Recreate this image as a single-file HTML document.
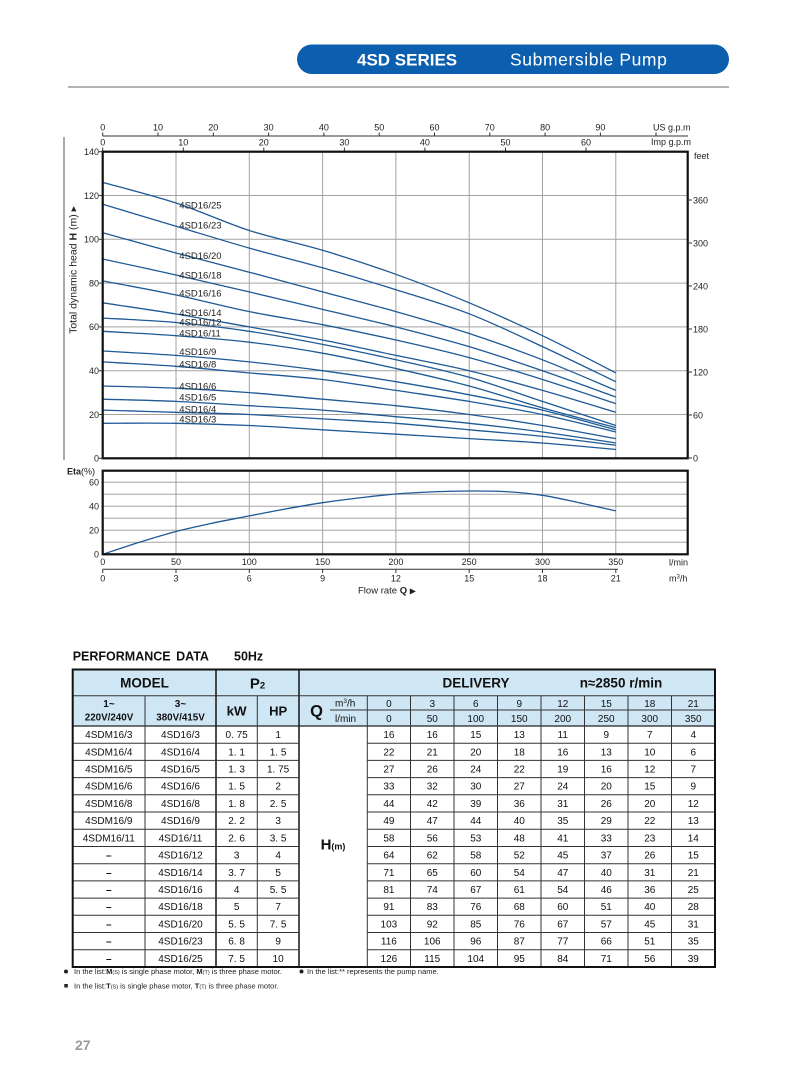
<!DOCTYPE html>
<html>
<head>
<meta charset="utf-8">
<style>
html,body{margin:0;padding:0;background:#fff;}
body{width:805px;height:1081px;position:relative;overflow:hidden;font-family:"Liberation Sans",Arial,sans-serif;}
svg{position:absolute;left:0;top:0;}
svg text{font-family:"Liberation Sans",Arial,sans-serif;}
</style>
</head>
<body>
<svg id="main" width="805" height="1081" viewBox="0 0 805 1081" xmlns="http://www.w3.org/2000/svg">
<!-- Header bar -->
<rect x="297" y="44.5" width="432" height="29.5" rx="14.75" fill="#0c5fae"/>
<text x="357" y="65.5" font-size="17" font-weight="bold" fill="#fff">4SD SERIES</text>
<text x="510" y="65.5" font-size="17.5" fill="#fff" letter-spacing="0.6">Submersible Pump</text>
<line x1="68" y1="87" x2="729" y2="87" stroke="#b3b3b3" stroke-width="2"/>

<!-- Top axes -->
<g font-size="9" fill="#222" text-anchor="middle">
<line x1="102.7" y1="136" x2="688" y2="136" stroke="#333" stroke-width="1"/>
<g stroke="#333" stroke-width="1">
<line x1="102.7" y1="132.5" x2="102.7" y2="136"/><line x1="158" y1="132.5" x2="158" y2="136"/><line x1="213.3" y1="132.5" x2="213.3" y2="136"/><line x1="268.6" y1="132.5" x2="268.6" y2="136"/><line x1="323.9" y1="132.5" x2="323.9" y2="136"/><line x1="379.2" y1="132.5" x2="379.2" y2="136"/><line x1="434.5" y1="132.5" x2="434.5" y2="136"/><line x1="489.8" y1="132.5" x2="489.8" y2="136"/><line x1="545.1" y1="132.5" x2="545.1" y2="136"/><line x1="600.4" y1="132.5" x2="600.4" y2="136"/><line x1="656" y1="132.5" x2="656" y2="136"/>
<line x1="102.7" y1="147.5" x2="102.7" y2="151"/><line x1="183.3" y1="147.5" x2="183.3" y2="151"/><line x1="263.8" y1="147.5" x2="263.8" y2="151"/><line x1="344.4" y1="147.5" x2="344.4" y2="151"/><line x1="424.9" y1="147.5" x2="424.9" y2="151"/><line x1="505.5" y1="147.5" x2="505.5" y2="151"/><line x1="586" y1="147.5" x2="586" y2="151"/>
</g>
<text x="102.7" y="130.5">0</text><text x="158" y="130.5">10</text><text x="213.3" y="130.5">20</text><text x="268.6" y="130.5">30</text><text x="323.9" y="130.5">40</text><text x="379.2" y="130.5">50</text><text x="434.5" y="130.5">60</text><text x="489.8" y="130.5">70</text><text x="545.1" y="130.5">80</text><text x="600.4" y="130.5">90</text>
<text x="102.7" y="145.5">0</text><text x="183.3" y="145.5">10</text><text x="263.8" y="145.5">20</text><text x="344.4" y="145.5">30</text><text x="424.9" y="145.5">40</text><text x="505.5" y="145.5">50</text><text x="586" y="145.5">60</text>
</g>
<text x="653" y="130.5" font-size="9" fill="#222">US g.p.m</text>
<text x="651" y="145" font-size="9" fill="#222">Imp g.p.m</text>
<text x="694" y="159" font-size="9" fill="#222">feet</text>

<!-- Main chart grid -->
<g stroke="#a3a3a3" stroke-width="1">
<line x1="176" y1="151.7" x2="176" y2="458.3"/><line x1="249.3" y1="151.7" x2="249.3" y2="458.3"/><line x1="322.6" y1="151.7" x2="322.6" y2="458.3"/><line x1="395.9" y1="151.7" x2="395.9" y2="458.3"/><line x1="469.2" y1="151.7" x2="469.2" y2="458.3"/><line x1="542.5" y1="151.7" x2="542.5" y2="458.3"/><line x1="615.8" y1="151.7" x2="615.8" y2="458.3"/>
<line x1="102.7" y1="195.5" x2="687.7" y2="195.5"/><line x1="102.7" y1="239.3" x2="687.7" y2="239.3"/><line x1="102.7" y1="283.1" x2="687.7" y2="283.1"/><line x1="102.7" y1="326.9" x2="687.7" y2="326.9"/><line x1="102.7" y1="370.7" x2="687.7" y2="370.7"/><line x1="102.7" y1="414.5" x2="687.7" y2="414.5"/>
</g>

<!-- Curves -->
<g fill="none" stroke="#1d5a96" stroke-width="1.3" stroke-linejoin="round">
<polyline class="c" points="102.7,423.3 176,423.3 249.3,425.5 322.6,429.8 395.9,434.2 469.2,438.6 542.5,443 615.8,449.5"/>
<polyline class="c" points="102.7,410.1 176,412.3 249.3,414.5 322.6,418.9 395.9,423.3 469.2,429.8 542.5,436.4 615.8,445.2"/>
<polyline class="c" points="102.7,399.2 176,401.4 249.3,405.7 322.6,410.1 395.9,416.7 469.2,423.3 542.5,432 615.8,443"/>
<polyline class="c" points="102.7,386 176,388.2 249.3,392.6 322.6,399.2 395.9,405.7 469.2,414.5 542.5,425.5 615.8,438.6"/>
<polyline class="c" points="102.7,361.9 176,366.3 249.3,372.9 322.6,379.5 395.9,390.4 469.2,401.4 542.5,414.5 615.8,432"/>
<polyline class="c" points="102.7,351 176,355.4 249.3,361.9 322.6,370.7 395.9,381.7 469.2,394.8 542.5,410.1 615.8,429.8"/>
<polyline class="c" points="102.7,331.3 176,335.7 249.3,342.2 322.6,353.2 395.9,368.5 469.2,386 542.5,407.9 615.8,427.6"/>
<polyline class="c" points="102.7,318.1 176,322.5 249.3,331.3 322.6,344.4 395.9,359.8 469.2,377.3 542.5,401.4 615.8,425.5"/>
<polyline class="c" points="102.7,302.8 176,314 249.3,326.9 322.6,340 395.9,355.4 469.2,370.7 542.5,390.4 615.8,412.3"/>
<polyline class="c" points="102.7,280.9 176,295 249.3,311.6 322.6,324.7 395.9,340 469.2,357.6 542.5,379.5 615.8,403.6"/>
<polyline class="c" points="102.7,259 176,275 249.3,291.9 322.6,309.4 395.9,326.9 469.2,346.6 542.5,370.7 615.8,397"/>
<polyline class="c" points="102.7,232.7 176,253 249.3,272.2 322.6,291.9 395.9,311.6 469.2,333.5 542.5,359.8 615.8,390.4"/>
<polyline class="c" points="102.7,204.3 176,226.2 249.3,248.1 322.6,267.8 395.9,289.7 469.2,313.8 542.5,346.6 615.8,381.7"/>
<polyline class="c" points="102.7,182.4 176,203 249.3,230.5 322.6,250.3 395.9,274.3 469.2,302.8 542.5,335.7 615.8,372.9"/>
</g>

<!-- Curve labels -->
<g font-size="9.5" fill="#222">
<text x="179.3" y="208.4">4SD16/25</text>
<text x="179.3" y="228.4">4SD16/23</text>
<text x="179.3" y="259.1">4SD16/20</text>
<text x="179.3" y="278.4">4SD16/18</text>
<text x="179.3" y="296.7">4SD16/16</text>
<text x="179.3" y="316.1">4SD16/14</text>
<text x="179.3" y="325.7">4SD16/12</text>
<text x="179.3" y="336.7">4SD16/11</text>
<text x="179.3" y="355.1">4SD16/9</text>
<text x="179.3" y="367.4">4SD16/8</text>
<text x="179.3" y="389.4">4SD16/6</text>
<text x="179.3" y="400.7">4SD16/5</text>
<text x="179.3" y="412.4">4SD16/4</text>
<text x="179.3" y="422.7">4SD16/3</text>
</g>

<!-- main chart border -->
<rect x="102.7" y="151.7" width="585" height="306.6" fill="none" stroke="#111" stroke-width="2.2"/>

<!-- Left y ticks/labels -->
<g stroke="#333" stroke-width="1">
<line x1="99" y1="151.7" x2="102.7" y2="151.7"/><line x1="99" y1="195.5" x2="102.7" y2="195.5"/><line x1="99" y1="239.3" x2="102.7" y2="239.3"/><line x1="99" y1="283.1" x2="102.7" y2="283.1"/><line x1="99" y1="326.9" x2="102.7" y2="326.9"/><line x1="99" y1="370.7" x2="102.7" y2="370.7"/><line x1="99" y1="414.5" x2="102.7" y2="414.5"/><line x1="99" y1="458.3" x2="102.7" y2="458.3"/>
<line x1="687.7" y1="200" x2="692" y2="200"/><line x1="687.7" y1="243" x2="692" y2="243"/><line x1="687.7" y1="286" x2="692" y2="286"/><line x1="687.7" y1="329" x2="692" y2="329"/><line x1="687.7" y1="372" x2="692" y2="372"/><line x1="687.7" y1="415" x2="692" y2="415"/><line x1="687.7" y1="458" x2="692" y2="458"/>
</g>
<g font-size="9" fill="#222" text-anchor="end">
<text x="99" y="155">140</text><text x="99" y="198.8">120</text><text x="99" y="242.6">100</text><text x="99" y="286.4">80</text><text x="99" y="330.2">60</text><text x="99" y="374">40</text><text x="99" y="417.8">20</text><text x="99" y="461.6">0</text>
</g>
<g font-size="9" fill="#222">
<text x="693" y="203.3">360</text><text x="693" y="246.3">300</text><text x="693" y="289.3">240</text><text x="693" y="332.3">180</text><text x="693" y="375.3">120</text><text x="693" y="418.3">60</text><text x="693" y="461.3">0</text>
</g>

<!-- Y axis title -->
<line x1="64" y1="137" x2="64" y2="460" stroke="#555" stroke-width="1"/>
<text transform="translate(76.5,270) rotate(-90)" font-size="10.5" fill="#222" text-anchor="middle">Total dynamic head <tspan font-weight="bold">H</tspan> (m) ▸</text>

<!-- Eta chart -->
<g stroke="#a3a3a3" stroke-width="1">
<line x1="176" y1="470.7" x2="176" y2="554.3"/><line x1="249.3" y1="470.7" x2="249.3" y2="554.3"/><line x1="322.6" y1="470.7" x2="322.6" y2="554.3"/><line x1="395.9" y1="470.7" x2="395.9" y2="554.3"/><line x1="469.2" y1="470.7" x2="469.2" y2="554.3"/><line x1="542.5" y1="470.7" x2="542.5" y2="554.3"/><line x1="615.8" y1="470.7" x2="615.8" y2="554.3"/>
<line x1="102.7" y1="482.3" x2="687.7" y2="482.3"/><line x1="102.7" y1="494.3" x2="687.7" y2="494.3"/><line x1="102.7" y1="506.3" x2="687.7" y2="506.3"/><line x1="102.7" y1="518.3" x2="687.7" y2="518.3"/><line x1="102.7" y1="530.3" x2="687.7" y2="530.3"/><line x1="102.7" y1="542.3" x2="687.7" y2="542.3"/>
</g>
<polyline class="c" fill="none" stroke="#1d5a96" stroke-width="1.3" stroke-linejoin="round" points="102.7,554.3 139.35,542.3 176,531.5 212.65,523.1 249.3,515.9 285.95,508.9 322.6,502.7 359.25,497.9 395.9,494 432.55,491.9 469.2,491 505.85,491.6 542.5,495.3 579.15,502.7 615.8,510.9"/>
<rect x="102.7" y="470.7" width="585" height="83.6" fill="none" stroke="#111" stroke-width="2.2"/>
<text x="67" y="474.5" font-size="9" fill="#222"><tspan font-weight="bold">Eta</tspan>(%)</text>
<g font-size="9" fill="#222" text-anchor="end">
<text x="99" y="485.6">60</text><text x="99" y="509.6">40</text><text x="99" y="533.6">20</text><text x="99" y="557.3">0</text>
</g>

<!-- bottom axes -->
<g font-size="9" fill="#222" text-anchor="middle">
<text x="102.7" y="565">0</text><text x="176" y="565">50</text><text x="249.3" y="565">100</text><text x="322.6" y="565">150</text><text x="395.9" y="565">200</text><text x="469.2" y="565">250</text><text x="542.5" y="565">300</text><text x="615.8" y="565">350</text>
<text x="102.7" y="581.5">0</text><text x="176" y="581.5">3</text><text x="249.3" y="581.5">6</text><text x="322.6" y="581.5">9</text><text x="395.9" y="581.5">12</text><text x="469.2" y="581.5">15</text><text x="542.5" y="581.5">18</text><text x="615.8" y="581.5">21</text>
</g>
<line x1="102.7" y1="569.3" x2="618" y2="569.3" stroke="#333" stroke-width="1"/>
<g stroke="#333" stroke-width="1">
<line x1="102.7" y1="569.3" x2="102.7" y2="573"/><line x1="176" y1="569.3" x2="176" y2="573"/><line x1="249.3" y1="569.3" x2="249.3" y2="573"/><line x1="322.6" y1="569.3" x2="322.6" y2="573"/><line x1="395.9" y1="569.3" x2="395.9" y2="573"/><line x1="469.2" y1="569.3" x2="469.2" y2="573"/><line x1="542.5" y1="569.3" x2="542.5" y2="573"/><line x1="615.8" y1="569.3" x2="615.8" y2="573"/>
</g>
<text x="669" y="565.5" font-size="9" fill="#222">l/min</text>
<text x="669" y="581.5" font-size="9" fill="#222">m<tspan font-size="6" dy="-3">3</tspan><tspan dy="3">/h</tspan></text>
<text x="358" y="593.5" font-size="9.5" fill="#222">Flow  rate  <tspan font-weight="bold">Q</tspan>   <tspan font-size="8">▶</tspan></text>

<!-- PERFORMANCE DATA -->
<text x="72.7" y="660.5" font-size="12.5" font-weight="bold" fill="#111" word-spacing="2">PERFORMANCE DATA</text>
<text x="234" y="660.5" font-size="12.5" font-weight="bold" fill="#111">50Hz</text>

<!-- Table -->
<rect x="72.7" y="669.5" width="642.3" height="56.5" fill="#cfe6f4"/>
<g stroke="#333" stroke-width="1">
<line x1="72.7" y1="695.7" x2="715" y2="695.7"/>
<line x1="330" y1="710" x2="715" y2="710"/>
<line x1="72.7" y1="726" x2="715" y2="726" stroke="#222" stroke-width="1.3"/>
<line x1="145" y1="695.7" x2="145" y2="967"/>
<line x1="257.3" y1="695.7" x2="257.3" y2="967"/>
<line x1="367.3" y1="695.7" x2="367.3" y2="967"/>
<line x1="410.5" y1="695.7" x2="410.5" y2="967"/>
<line x1="454" y1="695.7" x2="454" y2="967"/>
<line x1="497.5" y1="695.7" x2="497.5" y2="967"/>
<line x1="541" y1="695.7" x2="541" y2="967"/>
<line x1="584.5" y1="695.7" x2="584.5" y2="967"/>
<line x1="628" y1="695.7" x2="628" y2="967"/>
<line x1="671.5" y1="695.7" x2="671.5" y2="967"/>
</g>
<g stroke="#222" stroke-width="1.6">
<line x1="216" y1="669.5" x2="216" y2="967"/>
<line x1="299" y1="669.5" x2="299" y2="967"/>
</g>
<g stroke="#333" stroke-width="1">
<line x1="72.7" y1="743.2" x2="299" y2="743.2"/><line x1="367.3" y1="743.2" x2="715" y2="743.2"/>
<line x1="72.7" y1="760.4" x2="299" y2="760.4"/><line x1="367.3" y1="760.4" x2="715" y2="760.4"/>
<line x1="72.7" y1="777.6" x2="299" y2="777.6"/><line x1="367.3" y1="777.6" x2="715" y2="777.6"/>
<line x1="72.7" y1="794.8" x2="299" y2="794.8"/><line x1="367.3" y1="794.8" x2="715" y2="794.8"/>
<line x1="72.7" y1="812" x2="299" y2="812"/><line x1="367.3" y1="812" x2="715" y2="812"/>
<line x1="72.7" y1="829.3" x2="299" y2="829.3"/><line x1="367.3" y1="829.3" x2="715" y2="829.3"/>
<line x1="72.7" y1="846.5" x2="299" y2="846.5"/><line x1="367.3" y1="846.5" x2="715" y2="846.5"/>
<line x1="72.7" y1="863.7" x2="299" y2="863.7"/><line x1="367.3" y1="863.7" x2="715" y2="863.7"/>
<line x1="72.7" y1="880.9" x2="299" y2="880.9"/><line x1="367.3" y1="880.9" x2="715" y2="880.9"/>
<line x1="72.7" y1="898.1" x2="299" y2="898.1"/><line x1="367.3" y1="898.1" x2="715" y2="898.1"/>
<line x1="72.7" y1="915.3" x2="299" y2="915.3"/><line x1="367.3" y1="915.3" x2="715" y2="915.3"/>
<line x1="72.7" y1="932.5" x2="299" y2="932.5"/><line x1="367.3" y1="932.5" x2="715" y2="932.5"/>
<line x1="72.7" y1="949.7" x2="299" y2="949.7"/><line x1="367.3" y1="949.7" x2="715" y2="949.7"/>
</g>
<rect x="72.7" y="669.5" width="642.3" height="297.5" fill="none" stroke="#111" stroke-width="2"/>

<!-- header texts -->
<g fill="#111" text-anchor="middle" font-weight="bold">
<text x="144.5" y="687.3" font-size="13.5">MODEL</text>
<text x="257.5" y="688.5" font-size="15">P<tspan font-size="9.5">2</tspan></text>
<text x="476" y="687.3" font-size="13.5">DELIVERY</text>
<text x="621" y="687.3" font-size="13.5">n≈2850 r/min</text>
<text x="109" y="706.8" font-size="10">1~</text>
<text x="109" y="720.3" font-size="9.8">220V/240V</text>
<text x="180.5" y="706.8" font-size="10">3~</text>
<text x="180.5" y="720.3" font-size="9.8">380V/415V</text>
<text x="236.6" y="715.5" font-size="13.3">kW</text>
<text x="278.1" y="715.5" font-size="13">HP</text>
<text x="316.5" y="716.5" font-size="16.5">Q</text>
<text x="333" y="849.5" font-size="15">H<tspan font-size="9">(m)</tspan></text>
</g>
<g fill="#111" font-size="10">
<text x="335" y="706.5">m<tspan font-size="6.5" dy="-3.5">3</tspan><tspan dy="3.5">/h</tspan></text>
<text x="335" y="722">l/min</text>
</g>
<g fill="#111" font-size="10" text-anchor="middle">
<text x="388.9" y="706.8">0</text><text x="432.25" y="706.8">3</text><text x="475.75" y="706.8">6</text><text x="519.25" y="706.8">9</text><text x="562.75" y="706.8">12</text><text x="606.25" y="706.8">15</text><text x="649.75" y="706.8">18</text><text x="693.25" y="706.8">21</text>
<text x="388.9" y="721.8">0</text><text x="432.25" y="721.8">50</text><text x="475.75" y="721.8">100</text><text x="519.25" y="721.8">150</text><text x="562.75" y="721.8">200</text><text x="606.25" y="721.8">250</text><text x="649.75" y="721.8">300</text><text x="693.25" y="721.8">350</text>
</g>

<!-- data rows -->
<g fill="#111" font-size="10" text-anchor="middle">
<g transform="translate(0,738.1)"><text x="108.8">4SDM16/3</text><text x="180.5">4SD16/3</text><text x="236.6">0. 75</text><text x="278.1">1</text><text x="388.9">16</text><text x="432.25">16</text><text x="475.75">15</text><text x="519.25">13</text><text x="562.75">11</text><text x="606.25">9</text><text x="649.75">7</text><text x="693.25">4</text></g>
<g transform="translate(0,755.3)"><text x="108.8">4SDM16/4</text><text x="180.5">4SD16/4</text><text x="236.6">1. 1</text><text x="278.1">1. 5</text><text x="388.9">22</text><text x="432.25">21</text><text x="475.75">20</text><text x="519.25">18</text><text x="562.75">16</text><text x="606.25">13</text><text x="649.75">10</text><text x="693.25">6</text></g>
<g transform="translate(0,772.5)"><text x="108.8">4SDM16/5</text><text x="180.5">4SD16/5</text><text x="236.6">1. 3</text><text x="278.1">1. 75</text><text x="388.9">27</text><text x="432.25">26</text><text x="475.75">24</text><text x="519.25">22</text><text x="562.75">19</text><text x="606.25">16</text><text x="649.75">12</text><text x="693.25">7</text></g>
<g transform="translate(0,789.7)"><text x="108.8">4SDM16/6</text><text x="180.5">4SD16/6</text><text x="236.6">1. 5</text><text x="278.1">2</text><text x="388.9">33</text><text x="432.25">32</text><text x="475.75">30</text><text x="519.25">27</text><text x="562.75">24</text><text x="606.25">20</text><text x="649.75">15</text><text x="693.25">9</text></g>
<g transform="translate(0,806.9)"><text x="108.8">4SDM16/8</text><text x="180.5">4SD16/8</text><text x="236.6">1. 8</text><text x="278.1">2. 5</text><text x="388.9">44</text><text x="432.25">42</text><text x="475.75">39</text><text x="519.25">36</text><text x="562.75">31</text><text x="606.25">26</text><text x="649.75">20</text><text x="693.25">12</text></g>
<g transform="translate(0,824.1)"><text x="108.8">4SDM16/9</text><text x="180.5">4SD16/9</text><text x="236.6">2. 2</text><text x="278.1">3</text><text x="388.9">49</text><text x="432.25">47</text><text x="475.75">44</text><text x="519.25">40</text><text x="562.75">35</text><text x="606.25">29</text><text x="649.75">22</text><text x="693.25">13</text></g>
<g transform="translate(0,841.4)"><text x="108.8">4SDM16/11</text><text x="180.5">4SD16/11</text><text x="236.6">2. 6</text><text x="278.1">3. 5</text><text x="388.9">58</text><text x="432.25">56</text><text x="475.75">53</text><text x="519.25">48</text><text x="562.75">41</text><text x="606.25">33</text><text x="649.75">23</text><text x="693.25">14</text></g>
<g transform="translate(0,858.6)"><text x="108.8" font-weight="bold">–</text><text x="180.5">4SD16/12</text><text x="236.6">3</text><text x="278.1">4</text><text x="388.9">64</text><text x="432.25">62</text><text x="475.75">58</text><text x="519.25">52</text><text x="562.75">45</text><text x="606.25">37</text><text x="649.75">26</text><text x="693.25">15</text></g>
<g transform="translate(0,875.8)"><text x="108.8" font-weight="bold">–</text><text x="180.5">4SD16/14</text><text x="236.6">3. 7</text><text x="278.1">5</text><text x="388.9">71</text><text x="432.25">65</text><text x="475.75">60</text><text x="519.25">54</text><text x="562.75">47</text><text x="606.25">40</text><text x="649.75">31</text><text x="693.25">21</text></g>
<g transform="translate(0,893)"><text x="108.8" font-weight="bold">–</text><text x="180.5">4SD16/16</text><text x="236.6">4</text><text x="278.1">5. 5</text><text x="388.9">81</text><text x="432.25">74</text><text x="475.75">67</text><text x="519.25">61</text><text x="562.75">54</text><text x="606.25">46</text><text x="649.75">36</text><text x="693.25">25</text></g>
<g transform="translate(0,910.2)"><text x="108.8" font-weight="bold">–</text><text x="180.5">4SD16/18</text><text x="236.6">5</text><text x="278.1">7</text><text x="388.9">91</text><text x="432.25">83</text><text x="475.75">76</text><text x="519.25">68</text><text x="562.75">60</text><text x="606.25">51</text><text x="649.75">40</text><text x="693.25">28</text></g>
<g transform="translate(0,927.4)"><text x="108.8" font-weight="bold">–</text><text x="180.5">4SD16/20</text><text x="236.6">5. 5</text><text x="278.1">7. 5</text><text x="388.9">103</text><text x="432.25">92</text><text x="475.75">85</text><text x="519.25">76</text><text x="562.75">67</text><text x="606.25">57</text><text x="649.75">45</text><text x="693.25">31</text></g>
<g transform="translate(0,944.6)"><text x="108.8" font-weight="bold">–</text><text x="180.5">4SD16/23</text><text x="236.6">6. 8</text><text x="278.1">9</text><text x="388.9">116</text><text x="432.25">106</text><text x="475.75">96</text><text x="519.25">87</text><text x="562.75">77</text><text x="606.25">66</text><text x="649.75">51</text><text x="693.25">35</text></g>
<g transform="translate(0,961.8)"><text x="108.8" font-weight="bold">–</text><text x="180.5">4SD16/25</text><text x="236.6">7. 5</text><text x="278.1">10</text><text x="388.9">126</text><text x="432.25">115</text><text x="475.75">104</text><text x="519.25">95</text><text x="562.75">84</text><text x="606.25">71</text><text x="649.75">56</text><text x="693.25">39</text></g>
</g>

<!-- footnotes -->
<g fill="#222" font-size="7.5">
<circle cx="66" cy="971.5" r="2" fill="#222"/>
<text x="74" y="974">In the list:<tspan font-weight="bold">M</tspan><tspan font-size="5.5">(S)</tspan> is single phase motor, <tspan font-weight="bold">M</tspan><tspan font-size="5.5">(T)</tspan> is three phase motor.</text>
<circle cx="301.5" cy="971.5" r="2" fill="#222"/>
<text x="307" y="974">In the list:** represents the pump name.</text>
<rect x="64.3" y="984" width="3.5" height="3.5" fill="#222"/>
<text x="74" y="988.5">In the list:<tspan font-weight="bold">T</tspan><tspan font-size="5.5">(S)</tspan> is single phase motor, <tspan font-weight="bold">T</tspan><tspan font-size="5.5">(T)</tspan> is three phase motor.</text>
</g>

<text x="75" y="1050" font-size="14" font-weight="bold" fill="#9a9a9a">27</text>
</svg>
<script>
(function(){
  try{
    var ns="http://www.w3.org/2000/svg";
    var pls=document.querySelectorAll("polyline.c");
    for(var k=0;k<pls.length;k++){
      var pl=pls[k];
      var raw=pl.getAttribute("points").trim().split(/\s+/);
      var p=[];
      for(var i=0;i<raw.length;i++){var a=raw[i].split(",");p.push([parseFloat(a[0]),parseFloat(a[1])]);}
      var d="M"+p[0][0]+","+p[0][1];
      for(var i=0;i<p.length-1;i++){
        var p0=p[i>0?i-1:i],p1=p[i],p2=p[i+1],p3=p[i+2<p.length?i+2:i+1];
        var c1x=p1[0]+(p2[0]-p0[0])/6,c1y=p1[1]+(p2[1]-p0[1])/6;
        var c2x=p2[0]-(p3[0]-p1[0])/6,c2y=p2[1]-(p3[1]-p1[1])/6;
        d+=" C"+c1x.toFixed(2)+","+c1y.toFixed(2)+" "+c2x.toFixed(2)+","+c2y.toFixed(2)+" "+p2[0]+","+p2[1];
      }
      var path=document.createElementNS(ns,"path");
      path.setAttribute("d",d);
      path.setAttribute("fill","none");
      path.setAttribute("stroke","#1d5a96");
      path.setAttribute("stroke-width","1.3");
      pl.parentNode.replaceChild(path,pl);
    }
  }catch(e){}
})();
</script>
</body>
</html>
